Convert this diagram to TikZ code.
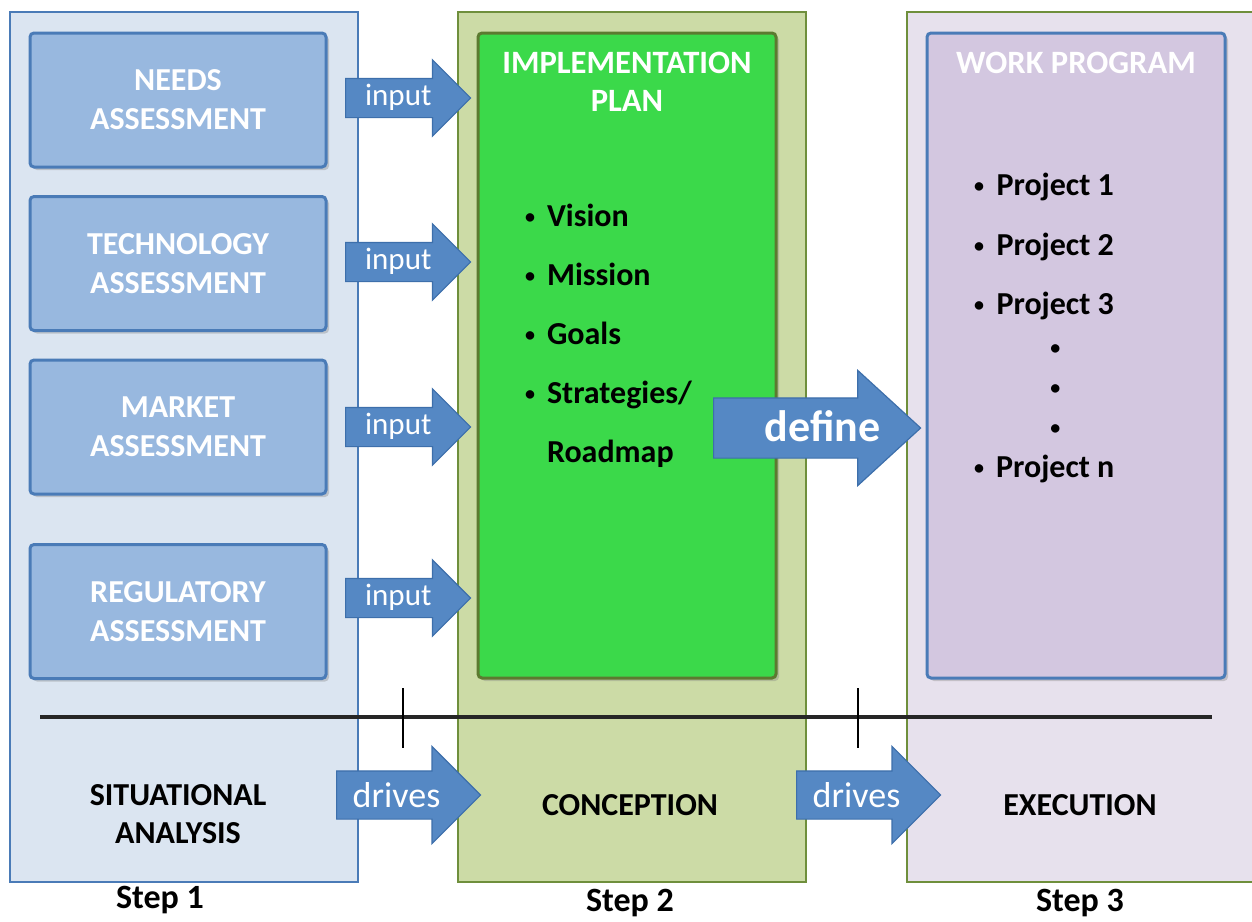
\documentclass[tikz,border=0pt]{standalone}
\usepackage{fontspec}
\setmainfont{Carlito}
\usetikzlibrary{positioning,shapes.arrows,shadows}

\definecolor{panelblue}{HTML}{DBE5F1}
\definecolor{panelgreen}{HTML}{CCDBA6}
\definecolor{panellilac}{HTML}{E7E1ED}
\definecolor{boxblue}{HTML}{98B8DF}
\definecolor{boxedge}{HTML}{4A7BB7}
\definecolor{planfill}{HTML}{3BD94A}
\definecolor{planedge}{HTML}{5C7A30}
\definecolor{progfill}{HTML}{D3C7E0}
\definecolor{arrowblue}{HTML}{5588C4}
\definecolor{arrowedge}{HTML}{3D6FAB}
\definecolor{oliveedge}{HTML}{6F8F3C}

\newcommand{\smallbullet}{\raisebox{1.2pt}{\fontsize{10}{10}\selectfont\textbullet}}

\tikzstyle{panel} = [rectangle, line width=1pt, minimum width=174pt, minimum height=435pt]
\tikzstyle{assessbox} = [draw=boxedge, fill=boxblue, line width=1.5pt, rectangle, rounded corners=2pt, minimum width=148pt, minimum height=67pt, align=center, text=white, font=\bfseries\fontsize{16}{19.5}\selectfont, drop shadow={shadow xshift=1.5pt, shadow yshift=-1.5pt, opacity=0.35}]
\tikzstyle{bigbox} = [line width=1.5pt, rectangle, rounded corners=2pt, minimum width=149pt, minimum height=322.5pt, drop shadow={shadow xshift=1.5pt, shadow yshift=-1.5pt, opacity=0.35}]
\tikzstyle{boxtitle} = [text=white, align=center, font=\bfseries\fontsize{16.3}{19}\selectfont]
\tikzstyle{fatarrow} = [single arrow, draw=arrowedge, fill=arrowblue, line width=0.6pt, text=white, inner ysep=0pt, inner xsep=3pt, anchor=tail]
\tikzstyle{inputarrow} = [fatarrow, minimum height=62.5pt, single arrow head extend=9.25pt, text height=13pt, text depth=6pt, font=\fontsize{15.5}{18}\selectfont]
\tikzstyle{drivesarrow} = [fatarrow, minimum height=72pt, single arrow head extend=12.25pt, text height=17.75pt, text depth=5.75pt, font=\fontsize{18}{21}\selectfont]
\tikzstyle{stagetext} = [align=center, font=\bfseries\fontsize{16}{19}\selectfont]
\tikzstyle{steptext} = [font=\bfseries\fontsize{17}{20}\selectfont]

\begin{document}
\begin{tikzpicture}[x=0.5pt, y=-0.5pt]
\useasboundingbox (0,0) rectangle (1252,921);

% three stages
\node [panel, draw=boxedge, fill=panelblue] (analysis) at (184,447) {};
\node [panel, draw=oliveedge, fill=panelgreen] (conception) at (632,447) {};
\node [panel, draw=oliveedge, fill=panellilac] (execution) at (1081,447) {};

% step 1: assessments
\node [assessbox] (needs) at (178,100) {NEEDS\\ASSESSMENT};
\node [assessbox] (technology) at (178,263.5) {TECHNOLOGY\\ASSESSMENT};
\node [assessbox] (market) at (178,427) {MARKET\\ASSESSMENT};
\node [assessbox] (regulatory) at (178,611.5) {REGULATORY\\ASSESSMENT};

% step 2: plan
\node [bigbox, draw=planedge, fill=planfill] (plan) at (627,355.5) {};
\node [boxtitle, below=7pt of plan.north] (plantitle) {IMPLEMENTATION\\PLAN};
\node [anchor=base west, font=\bfseries\fontsize{16}{29.5}\selectfont] (planlist) at (518,226) {%
    \begin{tabular}[t]{@{}c@{\hspace{6pt}}l@{}}
    \smallbullet & Vision\\
    \smallbullet & Mission\\
    \smallbullet & Goals\\
    \smallbullet & Strategies/\\
     & Roadmap
    \end{tabular}};

% step 3: program
\node [bigbox, draw=boxedge, fill=progfill] (program) at (1076,355.5) {};
\node [boxtitle, below=7pt of program.north] (programtitle) {WORK PROGRAM};
\node [anchor=base west, font=\bfseries\fontsize{16}{20}\selectfont] (projects) at (967,195) {%
    \begin{tabular}[t]{@{}c@{\hspace{6pt}}c@{}}
    \smallbullet & Project 1\\[10pt]
    \smallbullet & Project 2\\[9.5pt]
    \smallbullet & Project 3\\[1.5pt]
     & \smallbullet\\
     & \smallbullet\\
     & \smallbullet\\
    \smallbullet & Project n
    \end{tabular}};

% time line
\coordinate (lineleft) at (40,717);
\coordinate (lineright) at (1212,717);
\draw [line width=1.6pt, black!85] (lineleft) -- (lineright);
\draw [line width=1.1pt] (403,688) -- (403,748);
\draw [line width=1.1pt] (858,688) -- (858,748);

% stage names
\node [stagetext] (situational) at (178,814) {SITUATIONAL\\ANALYSIS};
\node [stagetext] (conceptlabel) at (630,805) {CONCEPTION};
\node [stagetext] (executelabel) at (1080,805) {EXECUTION};
\node [steptext] (stepone) at (160,900) {Step 1};
\node [steptext] (steptwo) at (630,903) {Step 2};
\node [steptext] (stepthree) at (1080,903) {Step 3};

% arrows
\node [inputarrow] (inputa) at (345,98) {input};
\node [inputarrow] (inputb) at (345,262) {input};
\node [inputarrow] (inputc) at (345,427) {input};
\node [inputarrow] (inputd) at (345,598) {input};
\node [fatarrow, minimum height=103.5pt, single arrow head extend=13.75pt, single arrow tip angle=85, text height=21.25pt, text depth=8.25pt, font=\bfseries\fontsize{22}{25}\selectfont] (define) at (713,428) {\hspace*{22pt}define};
\node [drivesarrow] (drivesa) at (336,795) {drives};
\node [drivesarrow] (drivesb) at (796,795) {drives};
\end{tikzpicture}
\end{document}
